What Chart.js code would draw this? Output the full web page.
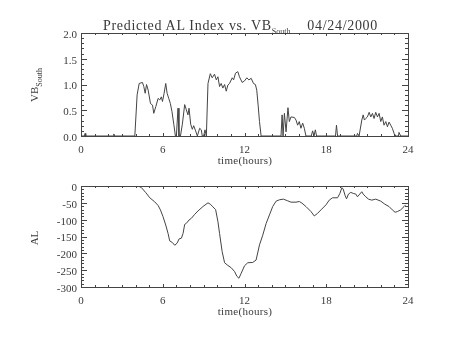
<!DOCTYPE html>
<html>
<head>
<meta charset="utf-8">
<script src="https://cdn.jsdelivr.net/npm/chart.js@4"></script>
<style>
  body { margin: 0; background: #fff; }
  #wrap { position: relative; width: 454px; height: 341px; font-family: "Liberation Serif", serif; color: #3a3a3a; }
  #wrap canvas { position: absolute; left: 0; }
  #cTop { top: 0; }
  #cBot { top: 170px; }
  .txt { position: absolute; white-space: nowrap; line-height: 1; }
  .mid { transform: translate(-50%, -50%); }
  .rot { transform: translate(-50%, -50%) rotate(-90deg); }
  .title { left: 103px; top: 19px; font-size: 14px; letter-spacing: 0.7px; }
  .title sub, .ylab sub { font-size: 8px; vertical-align: -4px; letter-spacing: 0; }
  .xlab { font-size: 11px; letter-spacing: 0.3px; }
  .ylab { font-size: 11px; }
</style>
</head>
<body>
<div id="wrap">
  <canvas id="cTop" width="454" height="170"></canvas>
  <canvas id="cBot" width="454" height="171"></canvas>
  <div class="txt title">Predicted AL Index vs. VB<sub>South</sub>&nbsp;&nbsp;&nbsp;&nbsp;04/24/2000</div>
  <div class="txt xlab mid" style="left:245px; top:160px;">time(hours)</div>
  <div class="txt xlab mid" style="left:245px; top:311px;">time(hours)</div>
  <div class="txt ylab rot" style="left:36px; top:85px;">VB<sub>South</sub></div>
  <div class="txt ylab rot" style="left:34px; top:238px;">AL</div>
</div>
<script>
// VB south (top panel), hours vs value
const vbHours = [
  0, 0.25, 0.3, 0.35, 2.35, 2.41, 2.47, 3.95, 4.12, 4.27, 4.51, 4.61, 4.71, 4.81, 4.93,
  5.1, 5.25, 5.34, 5.49, 5.66, 5.78, 5.9, 5.98, 6.1, 6.22, 6.32, 6.44, 6.56, 6.68, 6.81,
  6.93, 7.0, 7.12, 7.19, 7.3, 7.44, 7.61, 7.73, 7.85, 7.93, 8.05, 8.17, 8.27, 8.41, 8.54,
  8.71, 8.83, 8.9, 9.0, 9.1, 9.2, 9.32, 9.49, 9.63, 9.8, 9.93, 10.05, 10.17, 10.29, 10.41,
  10.54, 10.66, 10.78, 10.9, 11.1, 11.2, 11.34, 11.51, 11.63, 11.83, 12.0, 12.17, 12.32, 12.49, 12.66,
  12.8, 12.9, 13.0, 13.1, 13.22, 14.68, 14.76, 14.83, 14.93, 15.05, 15.19, 15.29, 15.41, 15.66, 15.78,
  15.9, 16.02, 16.14, 16.27, 16.39, 16.51, 16.9, 17.0, 17.1, 17.2, 17.29, 18.68, 18.75, 18.83, 20.24,
  20.29, 20.41, 20.61, 20.71, 20.8, 20.9, 21.02, 21.15, 21.27, 21.39, 21.51, 21.63, 21.76, 21.88, 22.0,
  22.12, 22.24, 22.37, 22.49, 22.61, 22.73, 22.85, 22.98, 23.1, 23.3, 23.34, 23.46, 24
];
const vbValues = [
  0, 0, 0.05, 0, 0, 0.04, 0, 0, 0.80, 1.02, 1.04, 0.96, 0.83, 1.0, 0.89,
  0.63, 0.6, 0.44, 0.57, 0.73, 0.70, 0.76, 0.67, 0.83, 1.02, 0.83, 0.73, 0.63, 0.47, 0.23,
  0, 0, 0.54, 0, 0, 0.23, 0.61, 0.51, 0.41, 0.54, 0.23, 0.13, 0.20, 0.10, 0,
  0.15, 0.12, 0, 0, 0.12, 0, 1.02, 1.21, 1.13, 1.20, 1.09, 1.15, 0.96, 1.02, 0.93,
  1.0, 0.87, 0.99, 1.02, 1.13, 1.09, 1.22, 1.25, 1.15, 1.04, 1.07, 1.13, 1.09, 1.12, 1.02,
  1.0, 0.89, 0.6, 0.28, 0, 0, 0.41, 0, 0.44, 0.08, 0.55, 0.28, 0.37, 0.36, 0.31,
  0.21, 0.28, 0.15, 0.25, 0.15, 0, 0, 0.1, 0, 0.12, 0, 0, 0.21, 0, 0,
  0.05, 0, 0.31, 0.41, 0.31, 0.34, 0.37, 0.46, 0.37, 0.44, 0.34, 0.46, 0.37, 0.44, 0.28,
  0.37, 0.21, 0.28, 0.18, 0.27, 0.21, 0.15, 0.05, 0, 0, 0.07, 0, 0
];

// predicted AL index (bottom panel)
const alHours = [
  0, 4.2, 4.44, 4.76, 5.05, 5.41, 5.66, 5.83, 6.02, 6.22, 6.39, 6.51, 6.71, 6.88, 7.05,
  7.2, 7.37, 7.49, 7.61, 7.73, 7.93, 8.1, 8.35, 8.59, 8.95, 9.32, 9.49, 9.68, 9.88, 10.05,
  10.17, 10.36, 10.54, 10.78, 11.03, 11.27, 11.44, 11.59, 11.76, 12.0, 12.24, 12.61, 12.85, 13.1, 13.34,
  13.59, 13.83, 14.07, 14.32, 14.56, 14.85, 15.17, 15.41, 15.78, 16.02, 16.22, 16.51, 16.88, 17.12, 17.37,
  17.61, 17.98, 18.22, 18.46, 18.83, 19.0, 19.15, 19.24, 19.39, 19.49, 19.63, 19.8, 19.98, 20.17, 20.29,
  20.46, 20.61, 20.71, 20.9, 21.1, 21.34, 21.63, 22.0, 22.3, 22.61, 22.85, 23.05, 23.22, 23.46, 23.71,
  23.83
];
const alValues = [
  0, 0, -5, -20, -35, -47, -58, -71, -91, -116, -141, -163, -168, -176, -170,
  -157, -155, -141, -114, -111, -101, -96, -84, -74, -61, -50, -54, -62, -70, -106,
  -141, -195, -228, -236, -243, -254, -268, -274, -259, -237, -228, -227, -220, -175, -146,
  -111, -86, -61, -45, -41, -39, -44, -48, -48, -46, -51, -61, -76, -89, -81,
  -71, -56, -42, -35, -35, -22, -5, -9, -29, -38, -24, -19, -22, -24, -32,
  -24, -17, -24, -32, -39, -42, -39, -45, -54, -61, -71, -78, -76, -71, -61,
  -56
];

const hourTicks = [0, 6, 12, 18, 24];
const vbTicks = ['0.0', '0.5', '1.0', '1.5', '2.0'];
const alTicks = ['-300', '-250', '-200', '-150', '-100', '-50', '0'];

const INK = '#3a3a3a';
const LINE = '#444';
const tickFont = { family: '"Liberation Serif", serif', size: 11 };

// box around the plot plus inward ticks on all four sides
const idlFrame = {
  id: 'idlFrame',
  afterDatasetsDraw(chart, args, opts) {
    const { ctx, chartArea: a, scales: { x, y } } = chart;
    ctx.save();
    ctx.strokeStyle = LINE;
    ctx.lineWidth = 1;
    ctx.strokeRect(Math.round(a.left) + 0.5, Math.round(a.top) + 0.5,
      Math.round(a.right - a.left), Math.round(a.bottom - a.top));
    ctx.beginPath();
    for (let h = x.min; h <= x.max; h += 1) {
      const px = Math.round(x.getPixelForValue(h)) + 0.5;
      const len = h % 6 === 0 ? 3 : 2;
      ctx.moveTo(px, a.bottom); ctx.lineTo(px, a.bottom - len);
      ctx.moveTo(px, a.top); ctx.lineTo(px, a.top + len);
    }
    const n = Math.round((y.max - y.min) / opts.minor);
    for (let i = 0; i <= n; i++) {
      const py = Math.round(y.getPixelForValue(y.min + i * opts.minor)) + 0.5;
      const len = i % opts.every === 0 ? 6 : 3;
      ctx.moveTo(a.left, py); ctx.lineTo(a.left + len, py);
      ctx.moveTo(a.right, py); ctx.lineTo(a.right - len, py);
    }
    ctx.stroke();
    ctx.restore();
  }
};

function makePanel(canvas, xs, ys, yMin, yMax, yStep, labels, frame, pad) {
  return new Chart(canvas, {
    type: 'line',
    data: {
      datasets: [{
        data: xs.map((h, i) => ({ x: h, y: ys[i] })),
        borderColor: LINE,
        borderWidth: 1,
        pointRadius: 0,
        tension: 0,
        fill: false
      }]
    },
    options: {
      responsive: false,
      animation: false,
      events: [],
      layout: { padding: pad },
      plugins: {
        legend: { display: false },
        tooltip: { enabled: false },
        idlFrame: frame
      },
      scales: {
        x: {
          type: 'linear',
          min: 0,
          max: 24,
          afterFit(s) { s.height = 30; },
          afterBuildTicks(s) { s.ticks = hourTicks.map(v => ({ value: v })); },
          border: { display: false },
          grid: { display: false, drawTicks: false },
          ticks: { padding: 8, color: INK, font: tickFont, maxRotation: 0, autoSkip: false }
        },
        y: {
          type: 'linear',
          min: yMin,
          max: yMax,
          afterFit(s) { s.width = 40; },
          afterBuildTicks(s) { s.ticks = labels.map((t, i) => ({ value: yMin + i * yStep })); },
          border: { display: false },
          grid: { display: false, drawTicks: false },
          ticks: {
            padding: 4,
            labelOffset: 2,
            color: INK,
            font: tickFont,
            autoSkip: false,
            callback: (v, i) => labels[i]
          }
        }
      }
    },
    plugins: [idlFrame]
  });
}

makePanel(document.getElementById('cTop'), vbHours, vbValues, 0, 2, 0.5, vbTicks,
  { minor: 0.1, every: 5 }, { left: 41, right: 46, top: 33, bottom: 4 });
makePanel(document.getElementById('cBot'), alHours, alValues, -300, 0, 50, alTicks,
  { minor: 10, every: 5 }, { left: 41, right: 46, top: 16, bottom: 24 });
</script>
</body>
</html>
